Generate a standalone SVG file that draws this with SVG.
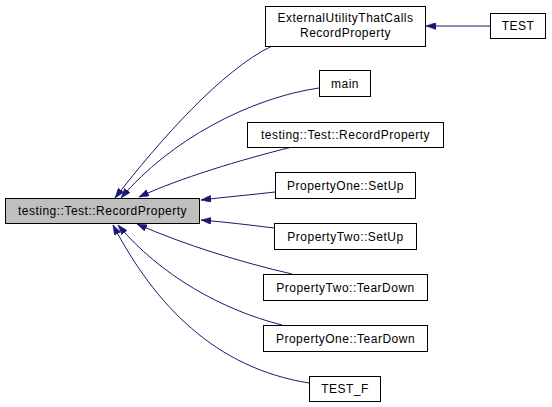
<svg xmlns="http://www.w3.org/2000/svg" width="552" height="407" viewBox="0 0 552 407">
<style>
.n rect{fill:#ffffff;stroke:#000000;stroke-width:1}
#n0 rect{fill:#bfbfbf}
.n text{font-family:"Liberation Sans",Arial,sans-serif;font-size:12px;letter-spacing:0.5px;text-anchor:middle;fill:#000000}
.e path{fill:none;stroke:#191970;stroke-width:1;marker-end:url(#ah)}
</style>
<defs>
<marker id="ah" viewBox="0 0 10 7" refX="10" refY="3.5" markerWidth="10" markerHeight="7" markerUnits="userSpaceOnUse" orient="auto">
<path d="M0,0 L10,3.5 L0,7 z" fill="#191970" stroke="#191970" stroke-width="0.5"/>
</marker>
</defs>
<rect width="552" height="407" fill="#ffffff"/>
<g id="edges" class="e">
<path d="M272,46 C222,70 160,140 115,198"/>
<path d="M319,88 C250,98 170,140 121,198"/>
<path d="M292,147 C240,160 180,178 139,197"/>
<path d="M275,192 C250,195 225,197 201,200"/>
<path d="M274,228 C250,225 225,222 201,220"/>
<path d="M292,274 C240,262 185,245 137,224"/>
<path d="M282,325 C222,310 160,275 118,225"/>
<path d="M309,383 C215,368 155,305 113,225"/>
<path d="M490,26 L426,26"/>
</g>
<g id="n0" class="n"><rect x="5.5" y="198.5" width="194" height="25"/><text x="102.5" y="215">testing::Test::RecordProperty</text></g>
<g id="n1" class="n"><rect x="265.5" y="6.5" width="160" height="40"/><text x="345.5" y="22">ExternalUtilityThatCalls</text><text x="345.5" y="37">RecordProperty</text></g>
<g id="n2" class="n"><rect x="490.5" y="13.5" width="55" height="25"/><text x="518" y="30">TEST</text></g>
<g id="n3" class="n"><rect x="319.5" y="70.5" width="51" height="26"/><text x="345" y="87.5">main</text></g>
<g id="n4" class="n"><rect x="247.5" y="122.5" width="196" height="25"/><text x="345.5" y="139">testing::Test::RecordProperty</text></g>
<g id="n5" class="n"><rect x="275.5" y="172.5" width="140" height="26"/><text x="345.5" y="189.5">PropertyOne::SetUp</text></g>
<g id="n6" class="n"><rect x="274.5" y="223.5" width="142" height="26"/><text x="345.5" y="240.5">PropertyTwo::SetUp</text></g>
<g id="n7" class="n"><rect x="263.5" y="274.5" width="164" height="26"/><text x="345.5" y="291.5">PropertyTwo::TearDown</text></g>
<g id="n8" class="n"><rect x="263.5" y="325.5" width="164" height="26"/><text x="345.5" y="342.5">PropertyOne::TearDown</text></g>
<g id="n9" class="n"><rect x="309.5" y="376.5" width="71" height="25"/><text x="345" y="393">TEST_F</text></g>
</svg>
